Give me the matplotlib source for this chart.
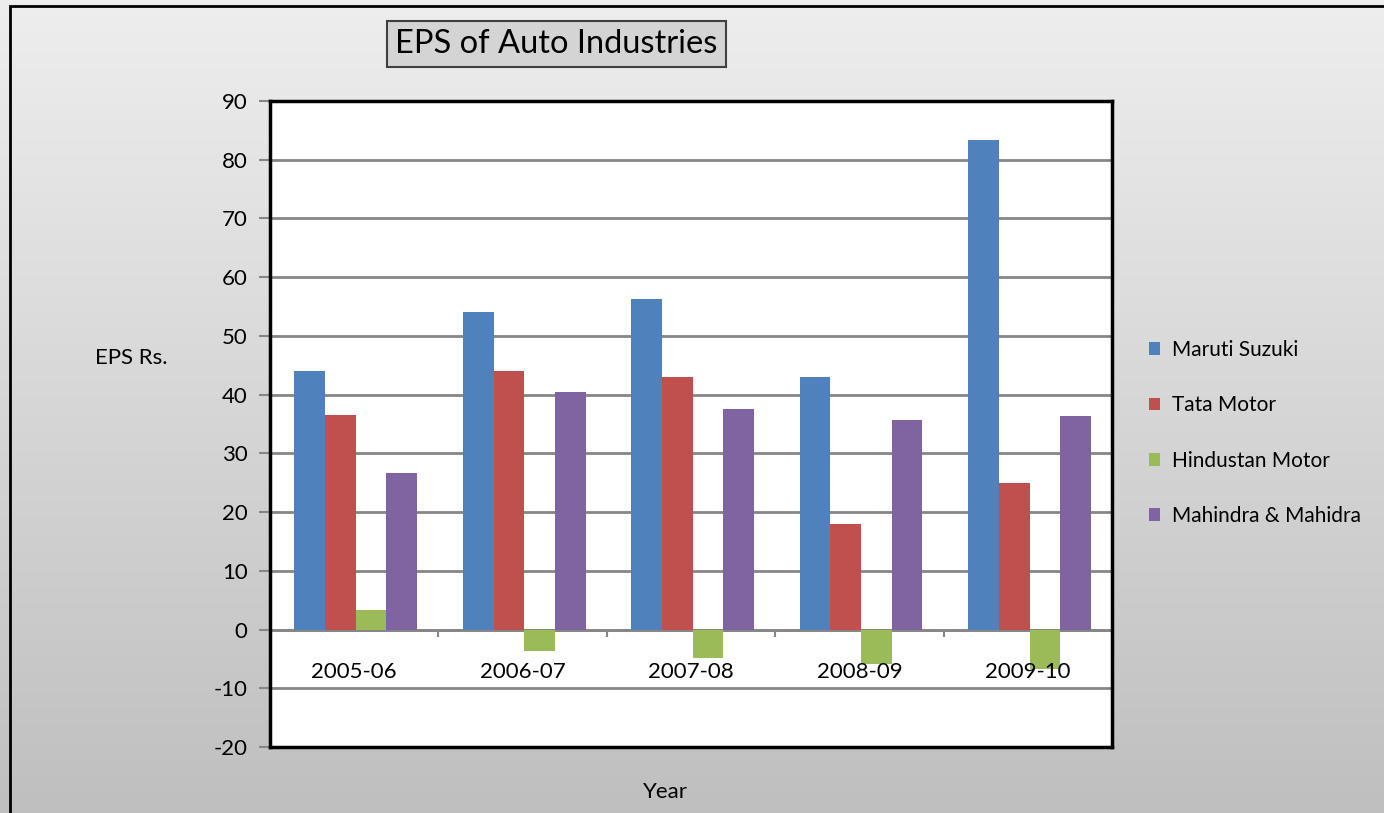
"""EPS of auto industries, grouped bar chart."""

import matplotlib.pyplot as plt
import numpy as np
from matplotlib.colors import LinearSegmentedColormap
from matplotlib.patches import Rectangle

plt.rcParams["font.family"] = ["Lato", "DejaVu Sans"]
plt.rcParams["axes.unicode_minus"] = False

years = ["2005-06", "2006-07", "2007-08", "2008-09", "2009-10"]
companies = ["Maruti Suzuki", "Tata Motor", "Hindustan Motor", "Mahindra & Mahidra"]
maruti = [44.0, 54.0, 56.2, 43.0, 83.4]
tata = [36.6, 44.0, 43.0, 18.0, 25.0]
hindustan = [3.4, -3.7, -4.8, -5.8, -6.8]
mahindra = [26.7, 40.4, 37.5, 35.6, 36.3]
colors = ["#4F81BD", "#C0504D", "#9BBB59", "#8064A2"]

fig = plt.figure(figsize=(13.84, 8.13), dpi=100)

# background gradient
bg = fig.add_axes([0, 0, 1, 1], zorder=0)
cmap = LinearSegmentedColormap.from_list("bg", ["#bfbfbf", "#eeeeee"])
bg.imshow(np.linspace(0, 1, 256).reshape(-1, 1)[::-1], aspect="auto",
          cmap=cmap, extent=[0, 1, 0, 1])
bg.set_xlim(0, 1)
bg.set_ylim(0, 1)
bg.axis("off")
bg.add_patch(Rectangle((10 / 1384, -0.1), 1.2, 1 - 6 / 813 + 0.1,
                       fill=False, ec="black", lw=2))

ax = fig.add_axes([0.195, 0.0812, 0.6085, 0.7946], zorder=1)
ax.set_facecolor("white")

x = np.arange(len(years))
width = 0.182
series = [maruti, tata, hindustan, mahindra]
for i, (vals, name, c) in enumerate(zip(series, companies, colors)):
    ax.bar(x + (i - 1.5) * width + 0.01, vals, width, color=c, label=name, zorder=3)

ax.set_xlim(-0.5, len(years) - 0.5)
ax.set_ylim(-20, 90)
ax.set_yticks(range(-20, 91, 10))
ax.set_xticks([])
ax.tick_params(axis="y", direction="out", length=8, width=1.5,
               color="#868686", labelsize=16, pad=8)
ax.yaxis.grid(True, color="#868686", lw=2)
ax.set_axisbelow(True)
for sp in ax.spines.values():
    sp.set_color("black")
    sp.set_linewidth(2.5)

# zero axis with category tick marks
ax.axhline(0, color="#868686", lw=2, zorder=2)
ax.vlines(np.arange(len(years) + 1) - 0.5, -1.2, 0, color="#868686", lw=1.5, zorder=2)
for xi, yr in zip(x, years):
    ax.text(xi, -7.2, yr, ha="center", va="center", fontsize=16, zorder=4)

fig.text(0.095, 0.56, "EPS Rs.", ha="center", va="center", fontsize=16)
fig.text(0.4805, 0.026, "Year", ha="center", va="center", fontsize=16)
fig.text(0.402, 0.946, "EPS of Auto Industries", ha="center", va="center",
         fontsize=23.5,
         bbox=dict(boxstyle="square,pad=0.25", fc="#d4d4d4", ec="#404040", lw=1.5))

fig.legend(loc="center left", bbox_to_anchor=(1130 / 1384, 1 - 433 / 813),
           frameon=False, fontsize=15, handlelength=0.55, handleheight=0.55,
           handletextpad=0.55, labelspacing=1.7)

fig.savefig("out.png", dpi=100)
plt.close(fig)
